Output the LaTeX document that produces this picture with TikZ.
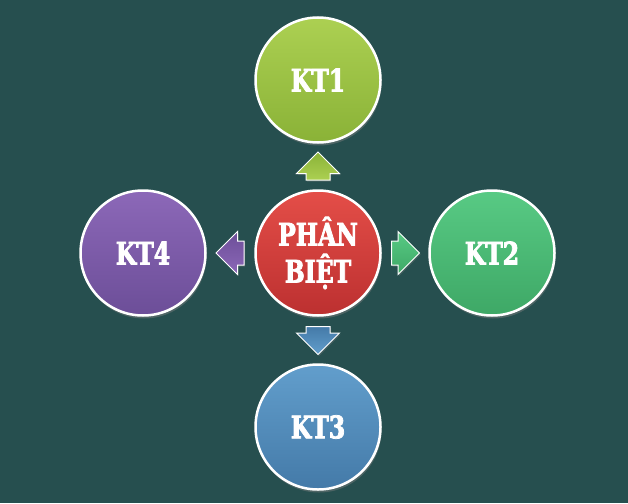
\documentclass[tikz,border=0pt]{standalone}
\usepackage{fontspec}
\newfontfamily\slabfont[FakeStretch=0.76, FakeBold=2.5]{DejaVu Serif Bold}
\usetikzlibrary{positioning, calc, shapes.arrows, shadows}
\definecolor{bg}{RGB}{38,79,79}
\definecolor{redtop}{RGB}{228,78,72}\definecolor{redbot}{RGB}{188,48,48}
\definecolor{limetop}{RGB}{172,208,82}\definecolor{limebot}{RGB}{138,178,55}
\definecolor{greentop}{RGB}{88,202,132}\definecolor{greenbot}{RGB}{62,168,102}
\definecolor{bluetop}{RGB}{98,158,204}\definecolor{bluebot}{RGB}{68,122,168}
\definecolor{purpletop}{RGB}{140,104,184}\definecolor{purplebot}{RGB}{108,78,152}

\begin{document}
\begin{tikzpicture}[x=1pt, y=-1pt,
  ball/.style={circle, minimum size=125pt, inner sep=0pt, draw=white, line width=2.5pt,
    text=white, align=center, font=\slabfont\fontsize{31}{37}\selectfont,
    drop shadow={opacity=0.45, shadow xshift=1pt, shadow yshift=-3pt}},
  blockarrow/.style={single arrow, anchor=tail, minimum height=28pt, inner xsep=0pt, inner ysep=11.5pt,
    single arrow head extend=9.5pt, draw=white, line width=1pt,
    drop shadow={opacity=0.35, shadow xshift=1pt, shadow yshift=-1.5pt}}]
\useasboundingbox[fill=bg] (0,0) rectangle (628,503);
% circles
\node[ball, top color=redtop, bottom color=redbot] (center) at (318,253) {PHÂN\\BIỆT};
\node[ball, top color=limetop, bottom color=limebot] (kt1) at (318,80) {KT1};
\node[ball, top color=greentop, bottom color=greenbot] (kt2) at (492,253) {KT2};
\node[ball, top color=bluetop, bottom color=bluebot] (kt3) at (318,427) {KT3};
\node[ball, top color=purpletop, bottom color=purplebot] (kt4) at (143,253) {KT4};
% arrows
\node[blockarrow, rotate=90, top color=limebot, bottom color=limetop] (up)
  at ($($(center)!0.5!(kt1)$)!14pt!(center)$) {};
\node[blockarrow, top color=greentop, bottom color=greenbot] (right)
  at ($($(center)!0.5!(kt2)$)!14pt!(center)$) {};
\node[blockarrow, rotate=270, top color=bluebot, bottom color=bluetop] (down)
  at ($($(center)!0.5!(kt3)$)!14pt!(center)$) {};
\node[blockarrow, rotate=180, top color=purplebot, bottom color=purpletop] (left)
  at ($($(center)!0.5!(kt4)$)!14pt!(center)$) {};
\end{tikzpicture}
\end{document}
